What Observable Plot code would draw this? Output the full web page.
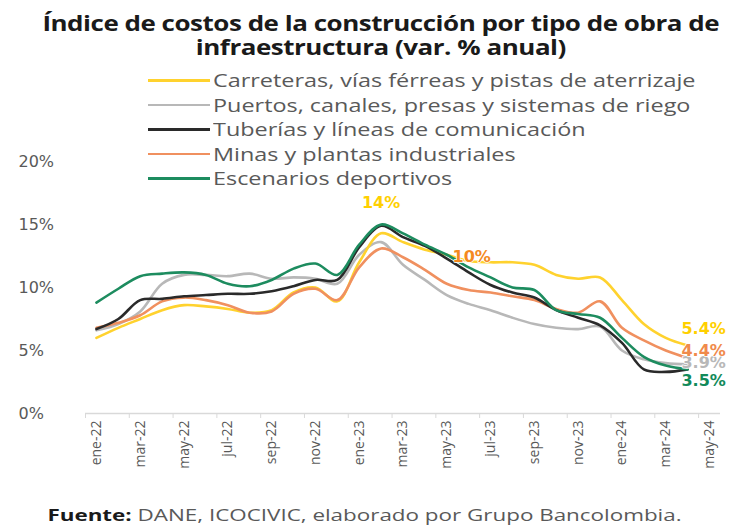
<!DOCTYPE html>
<html>
<head>
<meta charset="utf-8">
<script src="https://cdn.jsdelivr.net/npm/d3@7"></script>
<script src="https://cdn.jsdelivr.net/npm/@observablehq/plot@0.6"></script>
<style>
  html, body { margin: 0; padding: 0; background: #fff; }
  #wrap { position: relative; width: 729px; height: 528px; overflow: hidden; font-family: "Open Sans", sans-serif; }
  #title { height: 60px; box-sizing: border-box; padding-top: 10px; padding-left: 32px; text-align: center; font-weight: 700; font-size: 22px; line-height: 24px; color: #1a1a1a; letter-spacing: -0.4px; }
  #title span { display: inline-block; transform: scaleX(1.18); transform-origin: center; }
  #legend { position: absolute; left: 148px; top: 68px; }
  .row { display: flex; align-items: center; height: 24.5px; }
  .sw { width: 62px; height: 2.5px; margin-right: 3px; flex: none; }
  .lab { display: inline-block; font-size: 18px; color: #595959; white-space: nowrap; transform: scaleX(1.3); transform-origin: left center; }
  #caption { text-align: center; font-size: 16px; color: #595959; padding-top: 19px; line-height: 22px; }
  #caption span { display: inline-block; transform: scaleX(1.4); transform-origin: center; }
  #caption b { color: #1a1a1a; }
</style>
</head>
<body>
<div id="wrap">
  <div id="title"><span>Índice de costos de la construcción por tipo de obra de</span><br><span>infraestructura (var. % anual)</span></div>
  <div id="chart"></div>
  <div id="legend"></div>
  <div id="caption"><span><b>Fuente:</b> DANE, ICOCIVIC, elaborado por Grupo Bancolombia.</span></div>
</div>
<script>
const months = ["ene-22","feb-22","mar-22","abr-22","may-22","jun-22","jul-22","ago-22","sep-22","oct-22","nov-22","dic-22",
  "ene-23","feb-23","mar-23","abr-23","may-23","jun-23","jul-23","ago-23","sep-23","oct-23","nov-23","dic-23",
  "ene-24","feb-24","mar-24","abr-24","may-24"];

const seriesNames = [
  "Carreteras, vías férreas y pistas de aterrizaje",
  "Puertos, canales, presas y sistemas de riego",
  "Tuberías y líneas de comunicación",
  "Minas y plantas industriales",
  "Escenarios deportivos"
];
const seriesColors = ["#FFD22E", "#B8B8B8", "#2a2a2a", "#F0905F", "#1D8C5F"];

const carreteras = [6.0, 6.8, 7.5, 8.2, 8.6, 8.5, 8.3, 8.0, 8.2, 9.6, 10.0, 8.9, 12.0, 14.3, 13.6, 13.0, 12.6, 12.1, 12.0, 12.0, 11.8, 11.0, 10.7, 10.8, 9.0, 7.1, 6.0, 5.4];
const puertos    = [6.6, 7.1, 8.1, 10.3, 11.0, 11.0, 10.9, 11.1, 10.7, 10.8, 10.7, 10.3, 12.6, 13.6, 11.8, 10.6, 9.4, 8.7, 8.2, 7.6, 7.1, 6.8, 6.7, 6.9, 5.0, 4.3, 4.0, 3.9];
const tuberias   = [6.7, 7.5, 9.0, 9.1, 9.3, 9.4, 9.5, 9.5, 9.7, 10.1, 10.6, 10.6, 13.2, 14.9, 14.0, 13.3, 12.3, 11.2, 10.2, 9.6, 9.2, 8.2, 7.6, 7.0, 5.6, 3.5, 3.3, 3.5];
const minas      = [6.8, 7.2, 7.8, 8.9, 9.2, 9.0, 8.6, 8.0, 8.1, 9.5, 9.9, 9.0, 11.6, 13.1, 12.4, 11.4, 10.3, 9.8, 9.6, 9.3, 9.0, 8.3, 8.0, 8.9, 6.8, 5.8, 5.0, 4.4];
const escenarios = [8.8, 9.9, 10.9, 11.1, 11.2, 11.0, 10.3, 10.1, 10.6, 11.5, 11.9, 11.0, 13.4, 15.0, 14.3, 13.4, 12.6, 11.6, 10.8, 10.0, 9.8, 8.2, 7.9, 7.6, 6.0, 4.5, 3.8, 3.5];

const yTicks = [0, 5, 10, 15, 20];

const allSeries = [carreteras, puertos, tuberias, minas, escenarios];
const drawOrder = [1, 0, 3, 2, 4];

const lineMarks = drawOrder.map(k =>
  Plot.line(allSeries[k].map((v, i) => ({i, v})), {
    x: "i", y: "v", stroke: seriesColors[k], strokeWidth: 2.6, curve: "catmull-rom"
  })
);

// data labels
const labels = [
  {i: 13, v: carreteras[13], t: "14%", c: "#FFD000", dx: 0, dy: -30},
  {i: 17, v: minas[17], t: "10%", c: "#F4891F", dx: 3, dy: -33},
  {i: 27, v: puertos[27], t: "3.9%", c: "#B8B8B8", dx: 16, dy: -1},
  {i: 27, v: carreteras[27], t: "5.4%", c: "#FFD000", dx: 16, dy: -17},
  {i: 27, v: minas[27], t: "4.4%", c: "#F08A4B", dx: 16, dy: -7},
  {i: 27, v: escenarios[27], t: "3.5%", c: "#128A5A", dx: 16, dy: 11}
];

const boundaries = d3.range(-0.5, 29, 2);
const labelTicks = d3.range(0, 29, 2);

const chart = Plot.plot({
  width: 729,
  height: 425,
  marginLeft: 85,
  marginRight: 9,
  marginTop: 101,
  marginBottom: 72,
  style: {fontFamily: "Open Sans, sans-serif", background: "transparent", overflow: "visible"},
  x: {domain: [-0.5, 28.5], axis: null},
  y: {domain: [0, 20], axis: null},
  marks: [
    Plot.axisY({ticks: yTicks, label: null, tickFormat: d => d + "%", tickSize: 0, tickPadding: 0, textAnchor: "start", dx: -67, fontSize: 16, fontFamily: "DejaVu Sans", color: "#595959"}),
    Plot.ruleY([0], {stroke: "#d9d9d9", strokeWidth: 1.5}),
    Plot.axisX({ticks: boundaries, label: null, tickFormat: () => "", tickSize: 5, stroke: "#d9d9d9"}),
    Plot.axisX({ticks: labelTicks, label: null, tickFormat: i => months[i], tickSize: 0, tickPadding: 7, tickRotate: -90, fontSize: 14, color: "#595959"}),
    ...lineMarks,
    ...labels.map(l => Plot.text([l], {x: "i", y: "v", text: "t", fill: l.c, dx: l.dx, dy: l.dy, fontSize: 16, fontFamily: "DejaVu Sans", fontWeight: "bold", letterSpacing: "-0.5px", stroke: "white", strokeWidth: 1.5, paintOrder: "stroke"}))
  ]
});
document.getElementById("chart").appendChild(chart);

const legend = document.getElementById("legend");
seriesNames.forEach((n, k) => {
  const row = document.createElement("div");
  row.className = "row";
  row.innerHTML = `<div class="sw" style="background:${seriesColors[k]}"></div><div class="lab">${n}</div>`;
  legend.appendChild(row);
});
</script>
</body>
</html>
